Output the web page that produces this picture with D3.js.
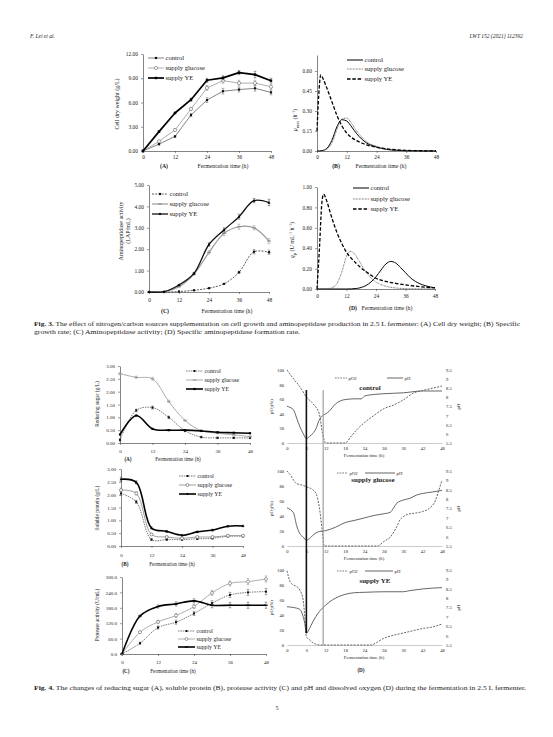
<!DOCTYPE html>
<html><head><meta charset="utf-8">
<script src="https://cdn.jsdelivr.net/npm/d3@7"></script>
<style>
body{margin:0;background:#fff}
svg{display:block}
text{font-family:"Liberation Serif","Times New Roman",serif;fill:#222}
</style>
</head><body>
<svg id="c" width="553" height="737"></svg>
<script>
// ================= DATA =================
const seriesNames = ["control", "supply glucose", "supply YE"];
// Fig 3
const fig3Time = [0, 6, 12, 18, 24, 30, 36, 42, 48];
const fig3TimeTicks = [0, 12, 24, 36, 48];
const cdwTicks = [0, 3, 6, 9, 12];
const cdwControl = [0, 0.85, 1.8, 4.45, 6.3, 7.4, 7.6, 7.75, 7.25];
const cdwControlErr = [0, 0.1, 0.1, 0.2, 0.3, 0.35, 0.3, 0.35, 0.3];
const cdwGlucose = [0, 1.2, 2.6, 5.2, 7.8, 8.7, 8.4, 8.4, 7.95];
const cdwGlucoseErr = [0, 0.1, 0.15, 0.2, 0.3, 0.3, 0.35, 0.35, 0.3];
const cdwYE = [0, 2.4, 4.7, 6.35, 8.75, 9.05, 9.7, 9.45, 8.7];
const cdwYEErr = [0, 0.1, 0.1, 0.2, 0.25, 0.25, 0.25, 0.4, 0.3];

const muTicks = [0, 0.15, 0.30, 0.45, 0.60];
const muControlTime = [0, 2, 4, 6, 8, 10, 12, 14, 16, 18, 20, 24, 28, 32, 36, 42, 48];
const muControl = [0, 0.003, 0.02, 0.08, 0.18, 0.235, 0.225, 0.18, 0.13, 0.09, 0.06, 0.03, 0.012, 0.005, 0.002, 0.001, 0];
const muGlucoseTime = [0, 2, 4, 6, 8, 10, 12, 14, 16, 18, 20, 24, 28, 32, 36, 42, 48];
const muGlucose = [0, 0.002, 0.015, 0.06, 0.16, 0.24, 0.247, 0.205, 0.15, 0.105, 0.07, 0.035, 0.015, 0.006, 0.002, 0.001, 0];
const muYETime = [0, 0.7, 1.5, 2.5, 4, 6, 8, 10, 12, 14, 16, 18, 20, 24, 28, 32, 36, 42, 48];
const muYE = [0.15, 0.42, 0.57, 0.54, 0.47, 0.37, 0.27, 0.19, 0.135, 0.1, 0.078, 0.06, 0.046, 0.028, 0.016, 0.009, 0.005, 0.002, 0.001];

const apTicks = [0, 1, 2, 3, 4, 5];
const apControl = [0, 0, 0.02, 0.08, 0.18, 0.38, 0.92, 1.88, 1.86];
const apControlErr = [0, 0, 0, 0, 0.02, 0.03, 0.05, 0.1, 0.1];
const apGlucose = [0, 0.02, 0.25, 0.84, 1.85, 2.74, 3.05, 3.0, 2.38];
const apGlucoseErr = [0, 0, 0.02, 0.05, 0.08, 0.1, 0.12, 0.1, 0.12];
const apYE = [0, 0.02, 0.33, 0.87, 2.22, 2.9, 3.52, 4.27, 4.18];
const apYEErr = [0, 0, 0.02, 0.05, 0.08, 0.1, 0.12, 0.1, 0.15];

const qpTicks = [0, 0.2, 0.4, 0.6, 0.8, 1.0];
const qpControlTime = [0, 12, 16, 18, 20, 22, 24, 26, 28, 30, 32, 34, 36, 38, 40, 42, 44, 46, 48];
const qpControl = [0, 0, 0.005, 0.015, 0.035, 0.07, 0.12, 0.185, 0.245, 0.27, 0.255, 0.21, 0.16, 0.11, 0.075, 0.05, 0.033, 0.02, 0.012];
const qpGlucoseTime = [0, 4, 6, 8, 10, 12, 13.5, 15, 17, 19, 21, 23, 25, 28, 32, 36, 48];
const qpGlucose = [0, 0.002, 0.012, 0.05, 0.16, 0.32, 0.37, 0.35, 0.28, 0.2, 0.135, 0.085, 0.055, 0.027, 0.01, 0.004, 0];
const qpYETime = [0, 1, 2, 2.7, 4, 5.5, 8, 10, 12, 14, 16, 18, 20, 22, 24, 28, 32, 36, 40, 44, 48];
const qpYE = [0, 0.4, 0.85, 0.93, 0.86, 0.74, 0.56, 0.45, 0.36, 0.3, 0.25, 0.205, 0.17, 0.135, 0.105, 0.075, 0.055, 0.04, 0.028, 0.018, 0.012];

// Fig 4
const fig4Time = [0, 6, 12, 18, 24, 30, 36, 42, 48];
const fig4TimeTicks = [0, 12, 24, 36, 48];
const gLTicks = [0, 0.5, 1, 1.5, 2, 2.5, 3];
const rsControl = [0.12, 1.27, 1.38, 1.0, 0.48, 0.23, 0.2, 0.2, 0.2];
const rsGlucose = [2.7, 2.56, 2.5, 1.62, 0.88, 0.48, 0.38, 0.32, 0.25];
const rsYE = [0.33, 1.07, 0.55, 0.5, 0.5, 0.47, 0.42, 0.4, 0.38];
const rsErr = [0.05, 0.05, 0.06, 0.05, 0.04, 0.03, 0.03, 0.03, 0.03];

const spControl = [2.05, 1.72, 0.25, 0.25, 0.25, 0.28, 0.3, 0.38, 0.38];
const spGlucose = [2.18, 2.05, 0.45, 0.35, 0.3, 0.35, 0.35, 0.4, 0.4];
const spYE = [2.6, 2.48, 0.7, 0.57, 0.42, 0.55, 0.62, 0.77, 0.78];
const spErr = [0.08, 0.06, 0.04, 0.03, 0.03, 0.03, 0.03, 0.03, 0.03];

const paTicks = [0, 60, 120, 180, 240, 300];
const paControl = [0, 42, 103, 124, 158, 198, 230, 240, 243];
const paGlucose = [0, 85, 125, 150, 185, 238, 275, 282, 292];
const paYE = [0, 148, 185, 195, 207, 190, 190, 190, 190];
const paErr = [0, 4, 6, 8, 8, 10, 10, 12, 12];

const doTimeTicks = [0, 6, 12, 18, 24, 30, 36, 42, 48];
const pO2Ticks = [0, 20, 40, 60, 80, 100];
const pHTicks = [5.5, 6, 6.5, 7, 7.5, 8, 8.5, 9, 9.5];
const doPanelTitles = ["control", "supply glucose", "supply YE"];
const pO2ControlTime = [0, 2, 4, 6, 8, 10, 11, 12, 18, 20, 22, 24, 27, 30, 33, 36, 39, 42, 45, 48];
const pO2Control = [100, 88, 77, 63, 54, 40, 13, 0, 0, 10, 20, 28, 38, 47, 52, 59, 68, 72, 75, 78];
const pHControlTime = [0, 2, 3, 4, 5, 6, 7, 8, 9, 10, 11, 12, 13, 15, 18, 21, 23, 24, 27, 30, 36, 42, 48];
const pHControl = [7.51, 7.32, 6.86, 6.39, 6.02, 5.74, 5.87, 6.02, 6.3, 6.77, 7.0, 7.1, 7.23, 7.64, 7.88, 7.92, 7.92, 8.07, 8.16, 8.2, 8.25, 8.35, 8.35];
const pO2GlucoseTime = [0, 1, 2, 3, 4, 6, 8, 9, 10, 11, 11.5, 28, 30, 32, 34, 35, 36, 38, 40, 42, 44, 46, 47, 48];
const pO2Glucose = [100, 95, 88, 83, 82, 79, 75, 70, 52, 17, 0, 0, 6, 12, 26, 35, 39, 43, 44, 46, 50, 61, 74, 88];
const pHGlucoseTime = [0, 2, 3, 4, 5, 6, 7, 8, 9, 10, 12, 15, 18, 21, 24, 27, 30, 32, 33, 34, 36, 38, 40, 42, 45, 48];
const pHGlucose = [7.53, 7.27, 6.58, 6.15, 5.98, 5.81, 5.9, 6.07, 6.2, 6.27, 6.32, 6.5, 6.75, 6.87, 7.0, 7.13, 7.22, 7.3, 7.53, 7.78, 7.95, 8.04, 8.21, 8.3, 8.38, 8.47];
const pO2YETime = [0, 1, 2, 3, 4, 5, 5.5, 6, 7, 8, 9, 10, 26, 28, 30, 33, 36, 39, 42, 45, 48];
const pO2YE = [99, 84, 80, 78, 73, 60, 38, 11, 7, 3, 1, 0, 0, 4, 9, 13, 16, 19, 22, 24, 28];
const pHYETime = [0, 2, 4, 5, 5.5, 6, 7, 8, 10, 12, 14, 16, 18, 21, 24, 30, 36, 38, 42, 48];
const pHYE = [7.54, 7.5, 7.4, 7.01, 6.66, 6.12, 6.39, 6.74, 7.28, 7.63, 7.9, 8.08, 8.2, 8.29, 8.31, 8.34, 8.34, 8.4, 8.49, 8.56];
const markerTimes = [6, 11.2];

// ================= DRAWING =================
const svg = d3.select('#c');
svg.append('rect').attr('width', 553).attr('height', 737).attr('fill', '#fff');

function txt(g, x, y, s, o = {}) {
  const t = g.append('text').attr('x', x).attr('y', y).attr('font-size', o.fs || 6)
    .attr('text-anchor', o.anchor || 'start');
  if (s !== null) t.text(s);
  if (o.weight) t.attr('font-weight', o.weight);
  if (o.style) t.attr('font-style', o.style);
  if (o.fill) t.style('fill', o.fill);
  if (o.rot) t.attr('transform', `rotate(${o.rot},${x},${y})`);
  return t;
}
function styleAxis(a, fs, color, noDomain) {
  a.attr('font-size', null).attr('font-family', null);
  a.selectAll('text').attr('font-size', fs).style('fill', '#222');
  a.selectAll('.tick line').attr('stroke', color || '#000').attr('stroke-width', 0.5);
  a.select('.domain').attr('stroke', noDomain ? 'none' : (color || '#000')).attr('stroke-width', 0.6);
}
function panel(xr, yr, xd, yd) {
  return { g: svg.append('g'), x: d3.scaleLinear().domain(xd).range(xr), y: d3.scaleLinear().domain(yd).range(yr) };
}
function axesStd(p, o) {
  const x0 = p.x.range()[0], y0 = p.y.range()[0];
  const ay = p.g.append('g').attr('transform', `translate(${x0},0)`)
    .call(d3.axisLeft(p.y).tickValues(o.yticks).tickFormat(o.yfmt).tickSize(o.tick).tickSizeOuter(0).tickPadding(o.ypad));
  styleAxis(ay, o.fs, '#333');
  const ax = p.g.append('g').attr('transform', `translate(0,${y0})`)
    .call(d3.axisBottom(p.x).tickValues(o.xticks).tickFormat(d3.format('d')).tickSize(o.tick).tickSizeOuter(0).tickPadding(o.xpad));
  styleAxis(ax, o.fs, '#333');
}
function mark(g, type, x, y, s, color) {
  if (type === 'sq') g.append('rect').attr('x', x - s).attr('y', y - s).attr('width', 2 * s).attr('height', 2 * s).attr('fill', color);
  else if (type === 'dot') g.append('circle').attr('cx', x).attr('cy', y).attr('r', s).attr('fill', color);
  else if (type === 'ocirc') g.append('circle').attr('cx', x).attr('cy', y).attr('r', s).attr('fill', '#fff').attr('stroke', color).attr('stroke-width', 0.6);
  else if (type === 'tri') g.append('path').attr('d', `M${x},${y - s * 1.2}L${x + s},${y + s * 0.8}L${x - s},${y + s * 0.8}Z`).attr('fill', color);
  else if (type === 'dash') g.append('line').attr('x1', x - s * 1.6).attr('x2', x + s * 1.6).attr('y1', y).attr('y2', y).attr('stroke', color).attr('stroke-width', 1.1);
}
function drawSeries(p, T, V, st, E, yScale) {
  const ys = yScale || p.y;
  if (E) {
    T.forEach((t, i) => {
      if (!E[i]) return;
      const x = p.x(t), y1 = ys(V[i] - E[i]), y2 = ys(V[i] + E[i]);
      p.g.append('line').attr('x1', x).attr('x2', x).attr('y1', y1).attr('y2', y2).attr('stroke', st.ecolor || '#555').attr('stroke-width', 0.5);
      [y1, y2].forEach(yy => p.g.append('line').attr('x1', x - 1.3).attr('x2', x + 1.3).attr('y1', yy).attr('y2', yy).attr('stroke', st.ecolor || '#555').attr('stroke-width', 0.5));
    });
  }
  const line = d3.line().x((d, i) => p.x(T[i])).y(d => ys(d)).curve(st.curve || d3.curveLinear);
  p.g.append('path').datum(V).attr('d', line).attr('fill', 'none').attr('stroke', st.color)
    .attr('stroke-width', st.w).attr('stroke-dasharray', st.dash || null).attr('stroke-linejoin', 'round');
  if (st.marker) T.forEach((t, i) => mark(p.g, st.marker, p.x(t), ys(V[i]), st.ms, st.mcolor || st.color));
}
function legend(g, items, x0, x1, ys, fs) {
  items.forEach((it, i) => {
    const y = ys[i];
    g.append('line').attr('x1', x0).attr('x2', x1).attr('y1', y).attr('y2', y).attr('stroke', it.st.color)
      .attr('stroke-width', it.st.w).attr('stroke-dasharray', it.st.dash || null);
    if (it.st.marker) mark(g, it.st.marker, (x0 + x1) / 2, y, it.st.ms, it.st.mcolor || it.st.color);
    txt(g, x1 + 1.5, y + fs * 0.33, it.label, { fs });
  });
}
function xTitle(g, lx, tx, y, letter, fs) {
  txt(g, lx, y, letter, { fs, weight: 'bold', anchor: 'middle' });
  txt(g, tx, y, 'Fermentation time (h)', { fs, anchor: 'middle' });
}
const C = d3.curveCatmullRom.alpha(0.5);
const M = d3.curveMonotoneX;

// ---------- Header ----------
txt(svg, 30, 38, 'F. Lei et al.', { fs: 5.5, style: 'italic' });
txt(svg, 523, 38, 'LWT 152 (2021) 112392', { fs: 5.5, style: 'italic', anchor: 'end' });

// ---------- Fig 3A ----------
{
  const p = panel([143, 271], [151, 54], [0, 48], [0, 12]);
  axesStd(p, { yticks: cdwTicks, yfmt: d3.format('.2f'), xticks: fig3TimeTicks, fs: 5.4, tick: 2, ypad: 3, xpad: 2 });
  const sC = { color: '#666', w: 0.8, marker: 'sq', ms: 1.1, mcolor: '#111', ecolor: '#666' };
  const sG = { color: '#999', w: 0.8, marker: 'ocirc', ms: 1.6, mcolor: '#666', ecolor: '#888' };
  const sY = { color: '#000', w: 1.7, marker: 'sq', ms: 1.2, mcolor: '#000', ecolor: '#444' };
  drawSeries(p, fig3Time, cdwControl, sC, cdwControlErr);
  drawSeries(p, fig3Time, cdwGlucose, sG, cdwGlucoseErr);
  drawSeries(p, fig3Time, cdwYE, sY, cdwYEErr);
  legend(p.g, [{ st: sC, label: seriesNames[0] }, { st: sG, label: seriesNames[1] }, { st: sY, label: seriesNames[2] }], 148, 164, [58, 68, 78], 6.6);
  txt(p.g, 119, 104, 'Cell dry weight (g/L)', { fs: 6, anchor: 'middle', rot: -90 });
  xTitle(p.g, 164, 223, 167.5, '(A)', 5.8);
}
// ---------- Fig 3B ----------
{
  const p = panel([317, 436], [151, 55], [0, 48], [0, 0.72]);
  axesStd(p, { yticks: muTicks, yfmt: d3.format('.2f'), xticks: fig3TimeTicks, fs: 5.4, tick: 2, ypad: 3, xpad: 2 });
  const sC = { color: '#000', w: 1.0, curve: M };
  const sG = { color: '#555', w: 0.9, dash: '0.8,0.7', curve: M };
  const sY = { color: '#000', w: 1.3, dash: '3.5,1.8', curve: M };
  drawSeries(p, muControlTime, muControl, sC);
  drawSeries(p, muGlucoseTime, muGlucose, sG);
  drawSeries(p, muYETime, muYE, sY);
  legend(p.g, [{ st: sC, label: seriesNames[0] }, { st: sG, label: seriesNames[1] }, { st: sY, label: seriesNames[2] }], 347, 363, [60, 69, 79], 6.6);
  const t = txt(p.g, 297, 120, null, { fs: 6, anchor: 'middle', rot: -90 });
  t.append('tspan').text('μ').style('font-style', 'italic');
  t.append('tspan').text('max').attr('font-size', 4.2).attr('dy', 1.5);
  t.append('tspan').text(' (h').attr('dy', -1.5);
  t.append('tspan').text('-1').attr('font-size', 4.2).attr('dy', -2);
  t.append('tspan').text(')').attr('dy', 2);
  xTitle(p.g, 336, 381, 167.5, '(B)', 5.8);
}
// ---------- Fig 3C ----------
{
  const p = panel([149, 269], [292, 185], [0, 48], [0, 5]);
  axesStd(p, { yticks: apTicks, yfmt: d3.format('.2f'), xticks: fig3TimeTicks, fs: 5.4, tick: 2, ypad: 3, xpad: 4 });
  const sC = { color: '#333', w: 0.8, dash: '2,1.2', marker: 'dot', ms: 1.2, mcolor: '#111', curve: C, ecolor: '#555' };
  const sG = { color: '#999', w: 1.2, marker: 'dash', ms: 1.2, mcolor: '#888', curve: C, ecolor: '#888' };
  const sY = { color: '#111', w: 1.3, marker: 'tri', ms: 1.4, mcolor: '#000', curve: C, ecolor: '#444' };
  drawSeries(p, fig3Time, apControl, sC, apControlErr);
  drawSeries(p, fig3Time, apGlucose, sG, apGlucoseErr);
  drawSeries(p, fig3Time, apYE, sY, apYEErr);
  legend(p.g, [{ st: sC, label: seriesNames[0] }, { st: sG, label: seriesNames[1] }, { st: sY, label: seriesNames[2] }], 152, 168, [194, 204, 214], 6.6);
  txt(p.g, 123, 231, 'Aminopeptidase activity', { fs: 6, anchor: 'middle', rot: -90 });
  txt(p.g, 130, 231, '(LAP/mL)', { fs: 6, anchor: 'middle', rot: -90 });
  xTitle(p.g, 165, 227, 312.5, '(C)', 5.8);
}
// ---------- Fig 3D ----------
{
  const p = panel([317, 435], [289, 187], [0, 48], [0, 1]);
  axesStd(p, { yticks: qpTicks, yfmt: d3.format('.2f'), xticks: fig3TimeTicks, fs: 5.4, tick: 2, ypad: 3, xpad: 3 });
  const sC = { color: '#000', w: 1.0, curve: M };
  const sG = { color: '#555', w: 0.9, dash: '0.8,0.7', curve: M };
  const sY = { color: '#000', w: 1.3, dash: '3.5,1.8', curve: M };
  drawSeries(p, qpControlTime, qpControl, sC);
  drawSeries(p, qpGlucoseTime, qpGlucose, sG);
  drawSeries(p, qpYETime, qpYE, sY);
  legend(p.g, [{ st: sC, label: seriesNames[0] }, { st: sG, label: seriesNames[1] }, { st: sY, label: seriesNames[2] }], 353, 369, [188, 199, 209], 6.6);
  const t = txt(p.g, 294, 240, null, { fs: 6, anchor: 'middle', rot: -90 });
  t.append('tspan').text('q').style('font-style', 'italic');
  t.append('tspan').text('p').attr('font-size', 4.2).attr('dy', 1.5);
  t.append('tspan').text(' (U mL').attr('dy', -1.5);
  t.append('tspan').text('-1').attr('font-size', 4.2).attr('dy', -2);
  t.append('tspan').text(' h').attr('dy', 2);
  t.append('tspan').text('-1').attr('font-size', 4.2).attr('dy', -2);
  t.append('tspan').text(')').attr('dy', 2);
  xTitle(p.g, 353, 387, 309.5, '(D)', 5.8);
}
// ---------- Fig 3 caption ----------
{
  const t1 = txt(svg, 34, 326, null, { fs: 5.8 });
  t1.append('tspan').text('Fig. 3.').attr('font-weight', 'bold');
  t1.append('tspan').text('  The effect of nitrogen/carbon sources supplementation on cell growth and aminopeptidase production in 2.5 L fermenter: (A) Cell dry weight; (B) Specific');
  t1.attr('textLength', 486).attr('lengthAdjust', 'spacingAndGlyphs');
  txt(svg, 34, 334, 'growth rate; (C) Aminopeptidase activity; (D) Specific aminopeptidase formation rate.', { fs: 5.8 })
    .attr('textLength', 266).attr('lengthAdjust', 'spacingAndGlyphs');
}

// ---------- Fig 4A ----------
{
  const p = panel([120, 250], [443, 366], [0, 48], [0, 3]);
  axesStd(p, { yticks: gLTicks, yfmt: d3.format('.2f'), xticks: fig4TimeTicks, fs: 5, tick: 2, ypad: 3, xpad: 4 });
  const sC = { color: '#444', w: 0.7, dash: '1.5,0.9', marker: 'sq', ms: 1.0, mcolor: '#111', curve: C, ecolor: '#555' };
  const sG = { color: '#aaa', w: 1.0, marker: 'dash', ms: 1.1, mcolor: '#999', curve: C, ecolor: '#999' };
  const sY = { color: '#000', w: 1.6, marker: 'sq', ms: 1.1, mcolor: '#000', curve: C, ecolor: '#444' };
  drawSeries(p, fig4Time, rsControl, sC, rsErr);
  drawSeries(p, fig4Time, rsGlucose, sG, rsErr);
  drawSeries(p, fig4Time, rsYE, sY);
  legend(p.g, [{ st: sC, label: seriesNames[0] }, { st: sG, label: seriesNames[1] }, { st: sY, label: seriesNames[2] }], 186, 203, [371, 380, 389], 5.8);
  txt(p.g, 99, 404, 'Reducing sugar (g/L)', { fs: 5.3, anchor: 'middle', rot: -90 });
  xTitle(p.g, 128, 178, 461, '(A)', 5.2);
}
// ---------- Fig 4B ----------
{
  const p = panel([121, 243], [546, 469], [0, 48], [0, 3]);
  axesStd(p, { yticks: gLTicks, yfmt: d3.format('.2f'), xticks: fig4TimeTicks, fs: 5, tick: 2, ypad: 3, xpad: 5 });
  const sC = { color: '#444', w: 0.7, dash: '1.5,0.9', marker: 'sq', ms: 1.0, mcolor: '#111', curve: C, ecolor: '#555' };
  const sG = { color: '#888', w: 0.8, marker: 'ocirc', ms: 1.5, mcolor: '#555', curve: C, ecolor: '#888' };
  const sY = { color: '#000', w: 1.6, marker: 'tri', ms: 1.3, mcolor: '#000', curve: C, ecolor: '#444' };
  drawSeries(p, fig4Time, spControl, sC, spErr);
  drawSeries(p, fig4Time, spGlucose, sG, spErr);
  drawSeries(p, fig4Time, spYE, sY, spErr);
  legend(p.g, [{ st: sC, label: seriesNames[0] }, { st: sG, label: seriesNames[1] }, { st: sY, label: seriesNames[2] }], 179, 196, [476, 485, 494], 5.8);
  txt(p.g, 99, 508, 'Soluble protein (g/L)', { fs: 5.3, anchor: 'middle', rot: -90 });
  xTitle(p.g, 125, 172, 566, '(B)', 5.2);
}
// ---------- Fig 4C ----------
{
  const p = panel([122, 266], [654, 577], [0, 48], [0, 300]);
  axesStd(p, { yticks: paTicks, yfmt: d3.format('.1f'), xticks: fig4TimeTicks, fs: 5, tick: 2, ypad: 3, xpad: 4 });
  const sC = { color: '#444', w: 0.7, dash: '1.5,0.9', marker: 'sq', ms: 1.0, mcolor: '#111', curve: C, ecolor: '#555' };
  const sG = { color: '#999', w: 0.8, marker: 'ocirc', ms: 1.5, mcolor: '#666', curve: C, ecolor: '#888' };
  const sY = { color: '#000', w: 1.6, marker: 'dash', ms: 1.1, mcolor: '#000', curve: C, ecolor: '#444' };
  drawSeries(p, fig4Time, paControl, sC, paErr);
  drawSeries(p, fig4Time, paGlucose, sG, paErr);
  drawSeries(p, fig4Time, paYE, sY, paErr);
  legend(p.g, [{ st: sC, label: seriesNames[0] }, { st: sG, label: seriesNames[1] }, { st: sY, label: seriesNames[2] }], 178, 195, [631, 639, 647], 5.8);
  txt(p.g, 99, 615, 'Protease activity (U/mL)', { fs: 5.3, anchor: 'middle', rot: -90 });
  xTitle(p.g, 126, 173, 673, '(C)', 5.2);
}

// ---------- Fig 4D ----------
const doPanels = [
  { yr: [443, 370], pO2T: pO2ControlTime, pO2: pO2Control, pHT: pHControlTime, pH: pHControl, leg: [335, 347, 387, 403], ly: 378, ty: 390 },
  { yr: [546, 471], pO2T: pO2GlucoseTime, pO2: pO2Glucose, pHT: pHGlucoseTime, pH: pHGlucose, leg: [337, 348, 365, 395], ly: 473, ty: 482 },
  { yr: [645, 570], pO2T: pO2YETime, pO2: pO2YE, pHT: pHYETime, pH: pHYE, leg: [337, 348, 365, 393], ly: 571, ty: 583 }
];
let lastPanel;
doPanels.forEach((d, k) => {
  const p = panel([287, 442], d.yr, [0, 48], [0, 100]);
  const y2 = d3.scaleLinear().domain([5.5, 9.5]).range(d.yr);
  const ay = p.g.append('g').attr('transform', 'translate(287,0)')
    .call(d3.axisLeft(p.y).tickValues(pO2Ticks).tickSize(0).tickPadding(3));
  styleAxis(ay, 4.6, '#999', true);
  const ay2 = p.g.append('g').attr('transform', 'translate(442,0)')
    .call(d3.axisRight(y2).tickValues(pHTicks).tickFormat(d => String(d)).tickSize(0).tickPadding(4));
  styleAxis(ay2, 4.6, '#999', true);
  const ax = p.g.append('g').attr('transform', `translate(0,${d.yr[0]})`)
    .call(d3.axisBottom(p.x).tickValues(doTimeTicks).tickSize(0).tickSizeOuter(0).tickPadding(4));
  styleAxis(ax, 4.6, '#aaa');
  const sO = { color: '#555', w: 0.9, dash: '2,1.3', curve: M };
  const sH = { color: '#555', w: 0.9, curve: M };
  drawSeries(p, d.pO2T, d.pO2, sO);
  drawSeries(p, d.pHT, d.pH, sH, null, y2);
  // legend
  p.g.append('line').attr('x1', d.leg[0]).attr('x2', d.leg[1]).attr('y1', d.ly).attr('y2', d.ly).attr('stroke', '#555').attr('stroke-width', 0.8).attr('stroke-dasharray', '1.6,1.1');
  txt(p.g, d.leg[1] + 1.5, d.ly + 1.6, 'pO2', { fs: 4.8 });
  p.g.append('line').attr('x1', d.leg[2]).attr('x2', d.leg[3]).attr('y1', d.ly).attr('y2', d.ly).attr('stroke', '#555').attr('stroke-width', 0.9);
  txt(p.g, d.leg[3] + 1.5, d.ly + 1.6, 'pH', { fs: 4.8 });
  txt(p.g, (k === 0 ? 370 : k === 1 ? 373 : 375), d.ty, doPanelTitles[k], { fs: 7, weight: 'bold', anchor: 'middle' });
  // axis titles
  const yc = (d.yr[0] + d.yr[1]) / 2;
  const t = txt(p.g, 273, yc, null, { fs: 4.8, anchor: 'middle', rot: -90 });
  t.append('tspan').text('pO');
  t.append('tspan').text('2').attr('font-size', 3.4).attr('dy', 1);
  t.append('tspan').text('(%)').attr('dy', -1);
  txt(p.g, 460, yc, 'pH', { fs: 4.8, anchor: 'middle', rot: -90 });
  txt(p.g, 364, d.yr[0] + 14, 'Fermentation time (h)', { fs: 4.6, anchor: 'middle' });
  lastPanel = p;
});
// vertical marker lines across the three panels
{
  const xm = lastPanel.x;
  svg.append('line').attr('x1', xm(markerTimes[1])).attr('x2', xm(markerTimes[1])).attr('y1', 390).attr('y2', 645).attr('stroke', '#999').attr('stroke-width', 1.1);
  svg.append('line').attr('x1', xm(markerTimes[0])).attr('x2', xm(markerTimes[0])).attr('y1', 390).attr('y2', 633).attr('stroke', '#111').attr('stroke-width', 1.6);
}
txt(svg, 361, 672, '(D)', { fs: 5.2, weight: 'bold', anchor: 'middle' });

// ---------- Fig 4 caption ----------
{
  const t = txt(svg, 34, 690, null, { fs: 5.8 });
  t.append('tspan').text('Fig. 4.').attr('font-weight', 'bold');
  t.append('tspan').text('  The changes of reducing sugar (A), soluble protein (B), protease activity (C) and pH and dissolved oxygen (D) during the fermentation in 2.5 L fermenter.');
  t.attr('textLength', 492).attr('lengthAdjust', 'spacingAndGlyphs');
}
txt(svg, 277, 710, '5', { fs: 6, anchor: 'middle' });
</script>
</body></html>
